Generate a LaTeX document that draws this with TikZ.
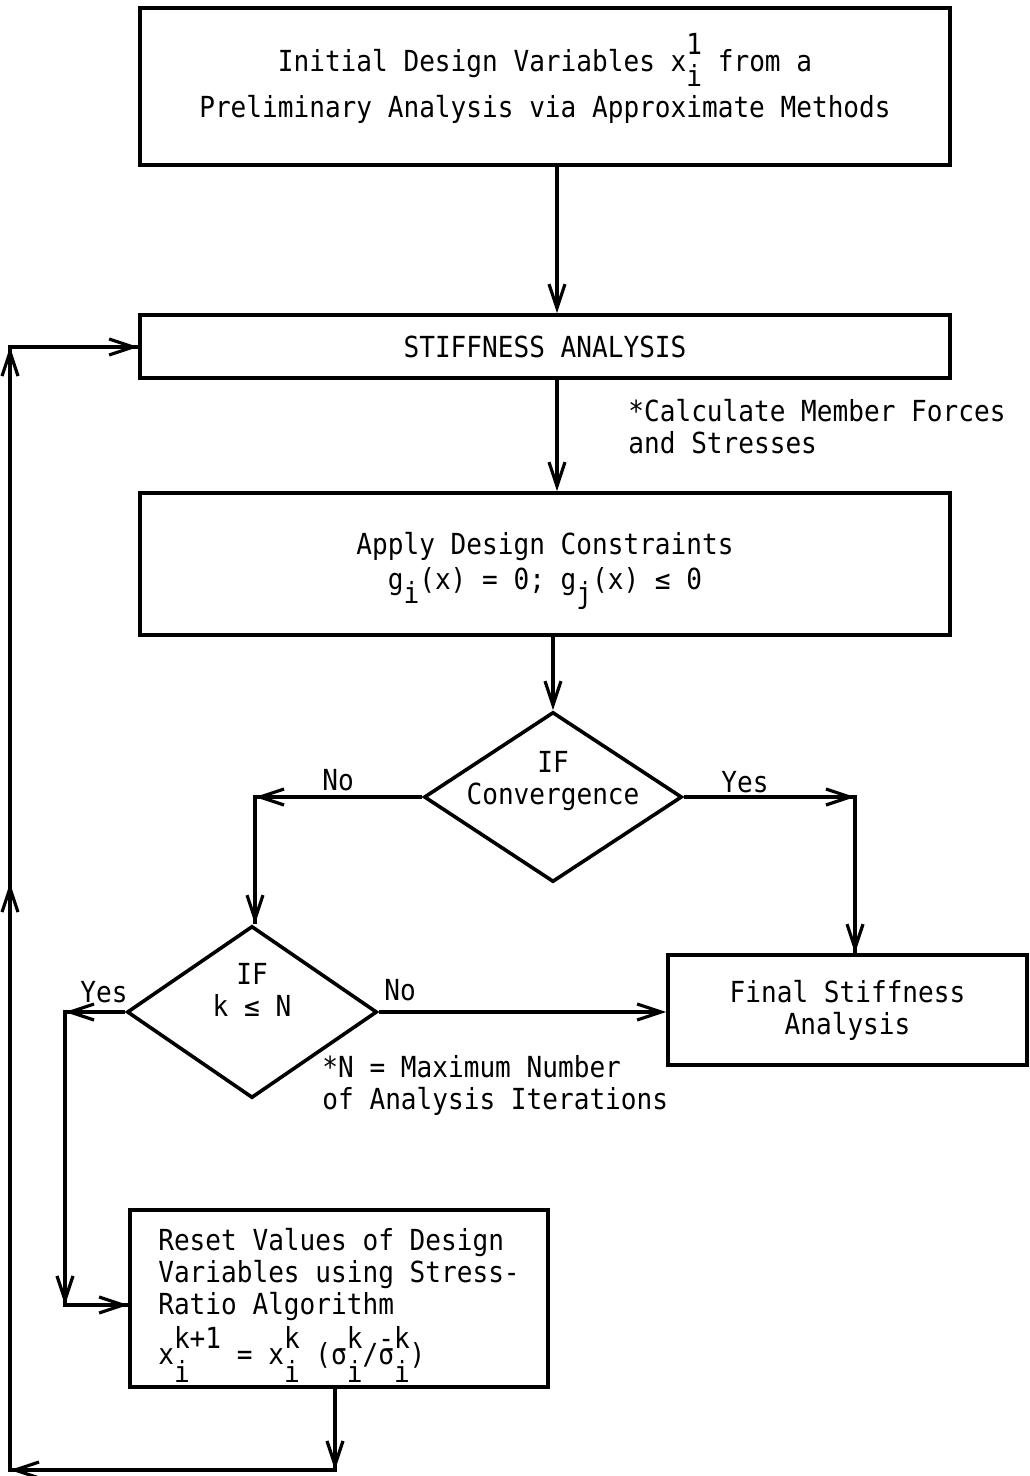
\documentclass[tikz,border=0pt]{standalone}
\usepackage{fontspec}
\newfontfamily\tw[FakeStretch=0.9]{DejaVu Sans Mono}
\usetikzlibrary{arrows.meta,shapes.geometric}
\newcommand\tsupsub[2]{\smash{\rlap{\raisebox{0.6em}{#1}}\rlap{\raisebox{-0.5em}{#2}}}\hphantom{#1}}
\newcommand\tsupsubb[2]{\smash{\rlap{\raisebox{0.55em}{#1}}\rlap{\raisebox{-0.6em}{#2}}}\hphantom{#1}}
\newcommand\tsub[1]{\smash{\raisebox{-0.5em}{#1}}}
\begin{document}
\begin{tikzpicture}[x=0.5pt,y=-0.5pt,
  every node/.style={font=\tw\fontsize{14.5}{16}\selectfont},
  box/.style={draw,line width=1.8pt,inner sep=0pt,align=center},
  dia/.style={draw,diamond,line width=1.8pt,inner sep=0pt},
  wire/.style={line width=1.8pt,line join=miter},
  arr/.style={line width=1.8pt,-{Straight Barb[length=12pt,width=8pt,line width=1.6pt]}},
  lbl/.style={inner sep=0pt},
  note/.style={inner sep=0pt,align=left,anchor=west}]
\useasboundingbox (0,0) rectangle (1029,1476);

% boxes
\node[box,minimum width=405pt,minimum height=78.5pt] (b1) at (545,86.5)
  {Initial Design Variables x\tsupsub{1}{i} from a\\[7pt]Preliminary Analysis via Approximate Methods};
\node[box,minimum width=405pt,minimum height=31.5pt] (s) at (545,346.5) {STIFFNESS ANALYSIS};
\node[box,minimum width=405pt,minimum height=71pt] (a) at (545,564)
  {Apply Design Constraints\\[1.5pt]g\tsub{i}(x) = 0; g\tsub{j}(x) ≤ 0};
\node[dia,minimum width=129pt,minimum height=85pt,
  label={[lbl,align=center,yshift=8pt]center:IF\\Convergence}] (d1) at (553,797) {};
\node[dia,minimum width=125pt,minimum height=86pt,
  label={[lbl,align=center,yshift=11pt]center:IF\\k ≤ N}] (d2) at (252,1012) {};
\node[box,minimum width=179.5pt,minimum height=55pt] (f) at (847.5,1010) {Final Stiffness\\Analysis};
\node[box,minimum width=209pt,minimum height=88.5pt,align=left] (r) at (339,1298.5)
  {Reset Values of Design\\Variables using Stress-\\Ratio Algorithm\\[9pt]
   x\tsupsubb{k+1}{i} = x\tsupsubb{k}{i} (σ\tsupsubb{k}{i}/\rlap{\raisebox{0.55em}{-}}σ\tsupsubb{k}{i})};

% notes and labels
\node[note] (n1) at (628,427) {*Calculate Member Forces\\and Stresses};
\node[note] (n2) at (322,1085.5) {*N = Maximum Number\\of Analysis Iterations};
\node[lbl] (l1) at (338,780) {No};
\node[lbl] (l2) at (745,782) {Yes};
\node[lbl] (l3) at (104,992) {Yes};
\node[lbl] (l4) at (400,990) {No};

% corner coordinates
\coordinate (v1) at (557,0);
\coordinate (c1) at (255,797);
\coordinate (c2) at (855,797);
\coordinate (c3) at (65,1012);
\coordinate (c4) at (65,1305);
\coordinate (c5) at (335,1470);
\coordinate (c6) at (10,1470);
\coordinate (c7) at (10,883);
\coordinate (c8) at (10,347);

% connectors
\draw[arr] (b1.south -| v1) -- (s.north -| v1);
\draw[arr] (s.south -| v1) -- (a.north -| v1);
\draw[arr] (a.south -| d1.north) -- (d1.north);

\draw[wire] (d1.west) -- (c1) -- (c1 |- d2.north);
\draw[arr] (d1.west) -- (c1);
\draw[arr] (c1) -- (c1 |- d2.north);

\draw[wire] (d1.east) -- (c2) -- (c2 |- f.north);
\draw[arr] (d1.east) -- (c2);
\draw[arr] (c2) -- (c2 |- f.north);

\draw[arr] (d2.east) -- (d2.east -| f.west);

\draw[wire] (d2.west) -- (c3) -- (c4) -- (c4 -| r.west);
\draw[arr] (d2.west) -- (c3);
\draw[arr] (c3) -- (c4);
\draw[arr] (c4) -- (c4 -| r.west);

\draw[wire] (r.south -| c5) -- (c5) -- (c6) -- (c8) -- (s.west |- c8);
\draw[arr] (r.south -| c5) -- (c5);
\draw[arr] (c5) -- (c6);
\draw[arr] (c6) -- (c7);
\draw[arr] (c7) -- (c8);
\draw[arr] (c8) -- (s.west |- c8);
\end{tikzpicture}
\end{document}
